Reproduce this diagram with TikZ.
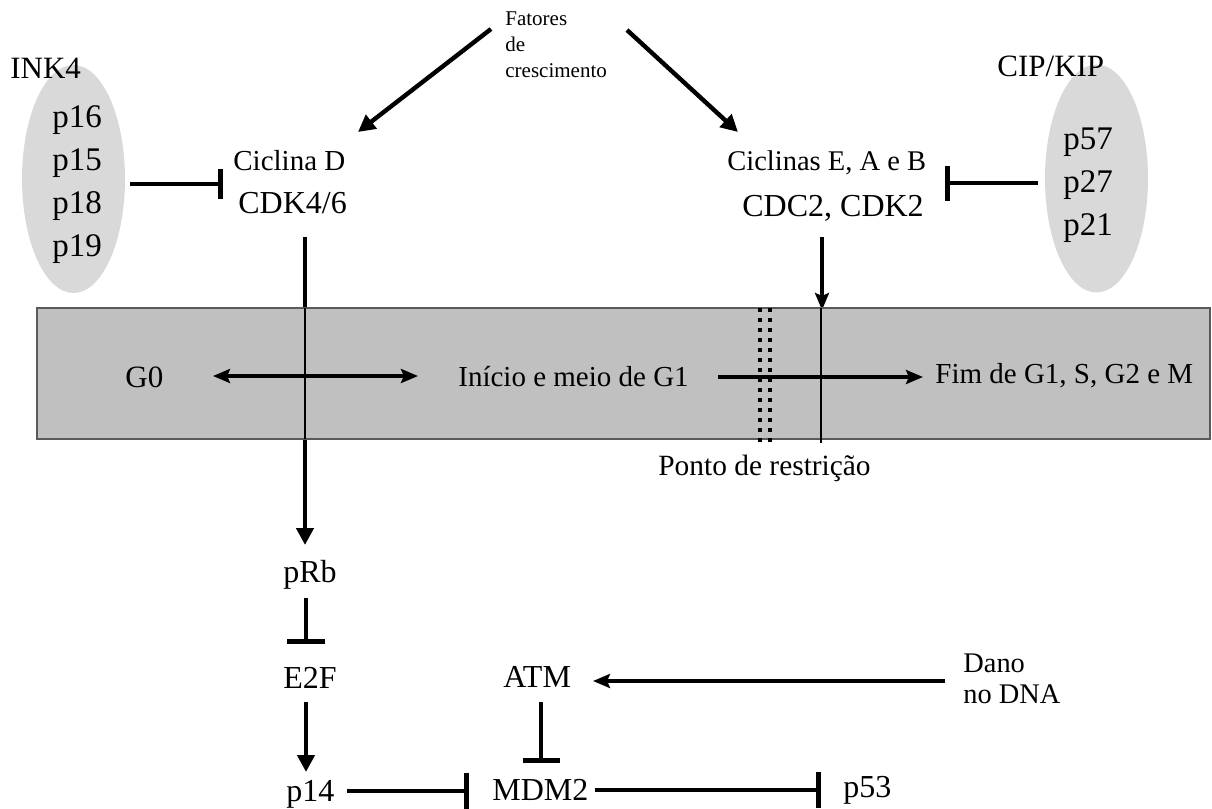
\documentclass[tikz,border=0pt]{standalone}
\usepackage{fontspec}
\setmainfont{Liberation Serif}
\usetikzlibrary{arrows.meta,shapes.geometric}
\definecolor{ellgray}{RGB}{217,217,217}
\definecolor{bandgray}{RGB}{192,192,192}
\definecolor{bandedge}{RGB}{90,90,90}
\begin{document}
\begin{tikzpicture}[x=0.5pt,y=-0.5pt,
  lbl/.style={inner sep=0pt, anchor=base west},
  fsmall/.style={font=\fontsize{10.5}{13}\selectfont},
  fmid/.style={font=\fontsize{14.5}{17}\selectfont},
  fbig/.style={font=\fontsize{16}{19}\selectfont},
  fgrp/.style={font=\fontsize{15.5}{18}\selectfont},
  fmem/.style={font=\fontsize{16.5}{19}\selectfont},
  ell/.style={ellipse, fill=ellgray, draw=none, inner sep=0pt, minimum width=51.5pt, minimum height=114pt},
  conn/.style={line width=2.2pt},
  arr/.style={conn, -{Triangle[length=8.5pt,width=8.5pt]}},
  sarr/.style={conn, -{Stealth[length=8.5pt,width=7pt,inset=1.5pt]}},
  dsarr/.style={conn, {Stealth[length=8.5pt,width=7pt,inset=1.5pt]}-{Stealth[length=8.5pt,width=7pt,inset=1.5pt]}},
  inh/.style={conn, -{Bar[width=#1,line width=2.5pt]}},
  inh/.default=18pt,
  thin/.style={line width=1pt},
  restr/.style={line width=2pt, dash pattern=on 2pt off 3pt},
]
\useasboundingbox (0,0) rectangle (1212,809);

% ---------- coordinates for connector ends ----------
\coordinate (cdkOut) at (305,237);
\coordinate (pRbIn)  at (305,545);
\coordinate (cdcOut) at (822,237);
\coordinate (bandIn) at (822,310);

% ---------- connectors crossing the band (drawn beneath it) ----------
\draw[arr] (cdkOut) -- (pRbIn);
\draw[sarr] (cdcOut) -- (bandIn);

% ---------- band ----------
\draw[fill=bandgray, draw=bandedge, line width=1pt] (37,308) rectangle (1210,439);
\draw[thin] (305,308) -- (305,439);
\draw[thin] (821,308) -- (821,443);
\draw[restr] (760,308) -- (760,443);
\draw[restr] (770,308) -- (770,443);

% ---------- ellipses ----------
\node[ell] (ink) at (73.5,179) {};
\node[ell] (cip) at (1096.5,178.5) {};

% ---------- labels ----------
\node[lbl, fgrp] (inkT) at (10,78) {INK4};
\node[lbl, fmem] (p16) at (52,127) {p16};
\node[lbl, fmem] (p15) at (52,170) {p15};
\node[lbl, fmem] (p18) at (52,213) {p18};
\node[lbl, fmem] (p19) at (52,256) {p19};

\node[lbl, fgrp] (cipT) at (997,76) {CIP/KIP};
\node[lbl, fmem] (p57) at (1063,149) {p57};
\node[lbl, fmem] (p27) at (1063,192) {p27};
\node[lbl, fmem] (p21) at (1063,235) {p21};

\node[inner sep=0pt, anchor=north west, align=left, fsmall] (fat) at (505,11) {Fatores\\de\\crescimento};

\node[lbl, fmid] (cd) at (233,170) {Ciclina D};
\node[lbl, fbig] (cdk) at (238,213) {CDK4/6};
\node[lbl, font=\fontsize{14.25}{17}\selectfont] (ce) at (727,170) {Ciclinas E, A e B};
\node[lbl, fbig] (cdc) at (742,216) {CDC2, CDK2};

\node[lbl, fgrp] (g0) at (125,387) {G0};
\node[lbl, fmid] (g1) at (458,386) {Início e meio de G1};
\node[lbl, fmid] (fim) at (935,383) {Fim de G1, S, G2 e M};
\node[lbl, font=\fontsize{14.7}{17}\selectfont] (ponto) at (658,475) {Ponto de restrição};

\node[lbl, fbig] (pRb) at (283,582) {pRb};
\node[lbl, fbig] (e2f) at (283,688) {E2F};
\node[lbl, fbig] (p14) at (286,801) {p14};
\node[lbl, fbig] (atm) at (503,687) {ATM};
\node[lbl, fbig] (mdm) at (492,800) {MDM2};
\node[lbl, fbig] (p53) at (843,797) {p53};
\node[inner sep=0pt, anchor=north west, align=left, font=\fontsize{14.2}{15.5}\selectfont] (dano) at (963,653) {Dano\\no DNA};

% ---------- more connector ends ----------
\coordinate (fatL) at (491,29);
\coordinate (cdIn) at (358,132);
\coordinate (fatR) at (627,30);
\coordinate (ceIn) at (738,132);
\coordinate (inkOut) at (130,184);
\coordinate (cdBar) at (223,184);
\coordinate (cipOut) at (1038,183);
\coordinate (ceBar) at (945,183);
\coordinate (g0Out) at (213,376);
\coordinate (g1In) at (418,376);
\coordinate (g1Out) at (718,377);
\coordinate (fimIn) at (923,377);
\coordinate (pRbOut) at (306,598);
\coordinate (e2fBar) at (306,644);
\coordinate (e2fOut) at (306,702);
\coordinate (p14In) at (306,772);
\coordinate (p14Out) at (347,791);
\coordinate (mdmBarL) at (469,791);
\coordinate (atmOut) at (541,702);
\coordinate (mdmBarT) at (541,763);
\coordinate (danoOut) at (945,681);
\coordinate (atmIn) at (593,681);
\coordinate (mdmOut) at (595,790);
\coordinate (p53Bar) at (821,790);

% ---------- connectors ----------
\draw[arr] (fatL) -- (cdIn);
\draw[arr] (fatR) -- (ceIn);
\draw[inh=15pt] (inkOut) -- (cdBar);
\draw[inh=17.5pt] (cipOut) -- (ceBar);
\draw[dsarr] (g0Out) -- (g1In);
\draw[sarr] (g1Out) -- (fimIn);
\draw[inh=19pt] (pRbOut) -- (e2fBar);
\draw[arr] (e2fOut) -- (p14In);
\draw[inh=18pt] (p14Out) -- (mdmBarL);
\draw[inh=18.5pt] (atmOut) -- (mdmBarT);
\draw[sarr] (danoOut) -- (atmIn);
\draw[inh=18pt] (mdmOut) -- (p53Bar);
\end{tikzpicture}
\end{document}
